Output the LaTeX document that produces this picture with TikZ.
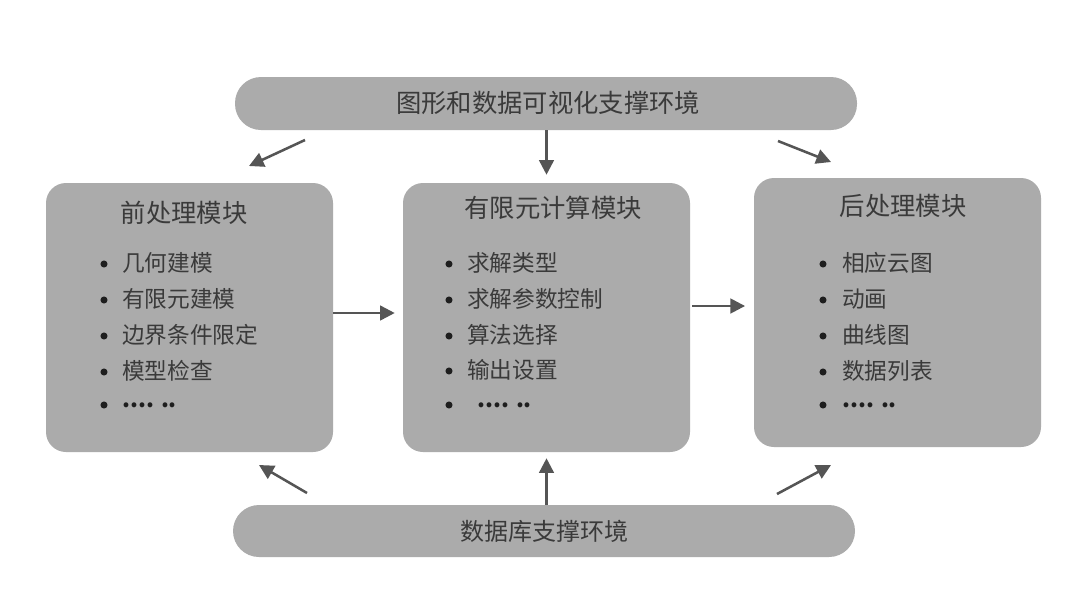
\documentclass[tikz,border=0pt]{standalone}
\usepackage{fontspec}
\setmainfont{Noto Sans CJK SC}
\usetikzlibrary{arrows.meta,fit}
\definecolor{boxfill}{HTML}{ABABAB}
\definecolor{txt}{HTML}{3A3A3A}
\definecolor{arr}{HTML}{555555}
\definecolor{bul}{HTML}{1E1E1E}
\begin{document}
\begin{tikzpicture}[x=0.75pt,y=-0.75pt,
  panel/.style={fill=boxfill, draw=none, rounded corners=15pt, inner sep=0pt},
  bar/.style={fill=boxfill, draw=none, rounded corners=19.5pt, inner sep=0pt},
  title/.style={text=txt, font=\fontsize{19}{22}\selectfont, inner sep=0pt},
  bartext/.style={text=txt, font=\fontsize{18}{22}\selectfont, inner sep=0pt},
  item/.style={text=txt, font=\fontsize{17}{20}\selectfont, anchor=west, inner sep=0pt},
  dotsitem/.style={text=bul, font=\fontsize{17}{20}\selectfont\bfseries, anchor=west, inner sep=0pt},
  bulletdot/.style={circle, fill=bul, draw=none, inner sep=0pt, minimum size=5.3pt},
  conn/.style={draw=arr, line width=1.9pt, -{Triangle[length=11pt,width=11pt]}}]
\fill[white] (0,0) rectangle (1080,611);
\useasboundingbox (0,0) rectangle (1080,611);

% bars
\node[bar, fit={(235,77) (857,130)}] (top) {};
\node[title] (toptext) at (548,103) {图形和数据可视化支撑环境};
\node[bar, fit={(233,505) (855,557)}] (bot) {};
\node[bartext] (bottext) at (544,531) {数据库支撑环境};

% panels
\node[panel, fit={(46,183) (333,452)}] (pre) {};
\node[panel, fit={(403,183) (690,452)}] (fem) {};
\node[panel, fit={(754,178) (1041,447)}] (post) {};

% titles
\node[title] (pretitle) at (184,213) {前处理模块};
\node[title] (femtitle) at (553,208) {有限元计算模块};
\node[title] (posttitle) at (903,206) {后处理模块};

% pre items
\node[bulletdot] (pb1) at (104,264) {};
\node[bulletdot] (pb2) at (104,300) {};
\node[bulletdot] (pb3) at (104,336) {};
\node[bulletdot] (pb4) at (104,372) {};
\node[bulletdot] (pb5) at (104,405) {};
\node[item] (pi1) at (122,263) {几何建模};
\node[item] (pi2) at (122,299) {有限元建模};
\node[item] (pi3) at (122,335) {边界条件限定};
\node[item] (pi4) at (122,371) {模型检查};
\node[dotsitem] (pi5) at (122,405) {.... ..};

% fem items
\node[bulletdot] (fb1) at (449,264) {};
\node[bulletdot] (fb2) at (449,300) {};
\node[bulletdot] (fb3) at (449,336) {};
\node[bulletdot] (fb4) at (449,371) {};
\node[bulletdot] (fb5) at (449,405) {};
\node[item] (fi1) at (467,263) {求解类型};
\node[item] (fi2) at (467,299) {求解参数控制};
\node[item] (fi3) at (467,335) {算法选择};
\node[item] (fi4) at (467,370) {输出设置};
\node[dotsitem] (fi5) at (477,405) {.... ..};

% post items
\node[bulletdot] (qb1) at (823,264) {};
\node[bulletdot] (qb2) at (823,300) {};
\node[bulletdot] (qb3) at (823,336) {};
\node[bulletdot] (qb4) at (823,372) {};
\node[bulletdot] (qb5) at (823,405) {};
\node[item] (qi1) at (842,263) {相应云图};
\node[item] (qi2) at (842,299) {动画};
\node[item] (qi3) at (842,335) {曲线图};
\node[item] (qi4) at (842,371) {数据列表};
\node[dotsitem] (qi5) at (842,405) {.... ..};

% free ends of diagonal arrows
\coordinate (tl1) at (305,140); \coordinate (tl2) at (249,166);
\coordinate (tr1) at (778,141); \coordinate (tr2) at (831,162);
\coordinate (bl1) at (307,493); \coordinate (bl2) at (259,465);
\coordinate (br1) at (777,494); \coordinate (br2) at (831,465);

% connectors
\draw[conn] (tl1) -- (tl2);
\draw[conn] (tr1) -- (tr2);
\draw[conn] (bl1) -- (bl2);
\draw[conn] (br1) -- (br2);
\draw[conn, shorten >=6pt] (top.south -| fem.north) -- (fem.north);
\draw[conn, shorten >=4.5pt] (bot.north -| fem.south) -- (fem.south);
\draw[conn, shorten >=6pt] (pre.east |- 0,313) -- (fem.west |- 0,313);
\draw[conn, shorten >=6.5pt] ([xshift=1.5pt]fem.east |- 0,306) -- (post.west |- 0,306);
\end{tikzpicture}
\end{document}
